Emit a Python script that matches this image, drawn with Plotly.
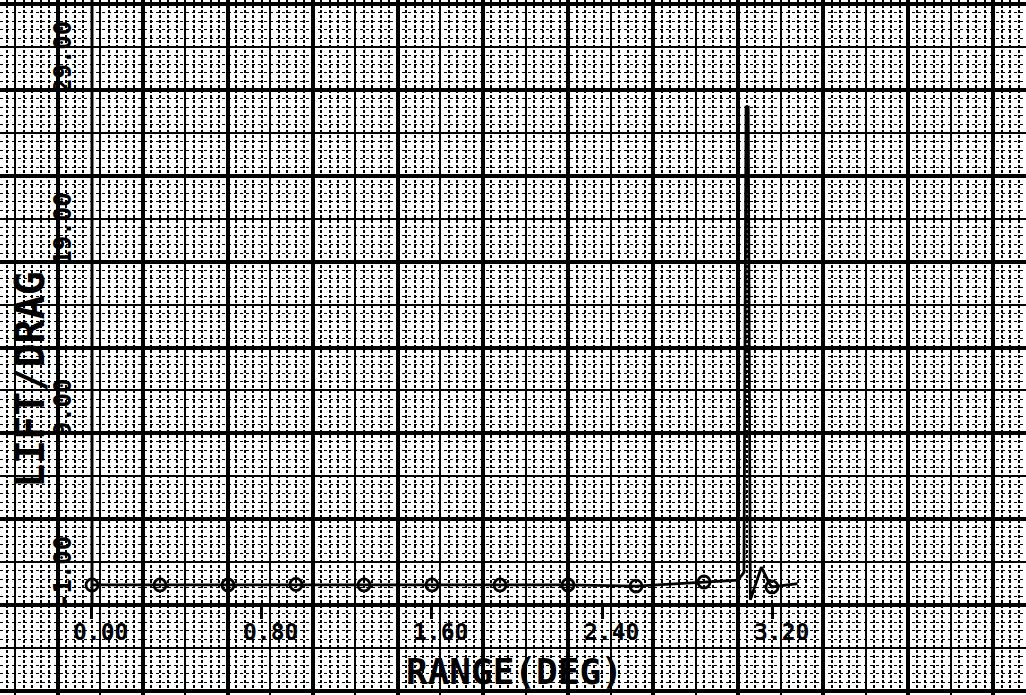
import plotly.graph_objects as go

# ---- data ----
range_deg = [0.00, 0.32, 0.64, 0.96, 1.28, 1.60, 1.92, 2.24, 2.56, 2.88,
             3.04, 3.068, 3.078, 3.088, 3.098, 3.150, 3.190, 3.200, 3.320]
lift_drag = [0.17, 0.17, 0.17, 0.20, 0.17, 0.17, 0.17, 0.17, 0.10, 0.34,
             0.45, 0.90, 28.0, 28.0, -0.70, 1.20, 0.20, 0.05, 0.25]

marker_deg = [0.00, 0.32, 0.64, 0.96, 1.28, 1.60, 1.92, 2.24, 2.56, 2.88, 3.20]
marker_ld = [0.17, 0.17, 0.17, 0.20, 0.17, 0.17, 0.17, 0.17, 0.10, 0.34, 0.05]

x_tick_vals = [0.00, 0.80, 1.60, 2.40, 3.20]
x_tick_text = ["0.00", "0.80", "1.60", "2.40", "3.20"]
y_tick_vals = [-1.0, 9.0, 19.0, 29.0]
y_tick_text = ["-1.00", "9.00", "19.00", "29.00"]

x_title = "RANGE(DEG)"
y_title = "LIFT/DRAG"

# ---- layout constants ----
W, H = 1026, 695
XR = [-0.4329, 4.3953]
YR = [-6.243, 34.243]
MONO = "DejaVu Sans Mono"

fig = go.Figure()

fig.add_trace(go.Scatter(
    x=range_deg, y=lift_drag, mode="lines",
    line=dict(color="black", width=2.8),
    hoverinfo="skip", showlegend=False))
fig.add_trace(go.Scatter(
    x=marker_deg, y=marker_ld, mode="markers",
    marker=dict(symbol="circle-open", size=12, color="black",
                line=dict(width=2.8, color="black")),
    hoverinfo="skip", showlegend=False))
# invisible carriers for the graph-paper grid axes
for xa, ya in (("x2", "y2"), ("x3", "y3")):
    fig.add_trace(go.Scatter(x=[XR[0]], y=[YR[0]], xaxis=xa, yaxis=ya,
                             mode="markers", marker=dict(opacity=0),
                             hoverinfo="skip", showlegend=False))

grid_common = dict(showticklabels=False, ticks="", zeroline=False,
                   showline=False, fixedrange=True)

fig.update_layout(
    width=W, height=H,
    margin=dict(l=0, r=0, t=0, b=0, pad=0),
    paper_bgcolor="white", plot_bgcolor="white",
    showlegend=False,
    xaxis=dict(range=XR, showgrid=False, zeroline=False,
               tickmode="array", tickvals=x_tick_vals, ticks="outside",
               ticklen=12, tickwidth=2.5, tickcolor="black",
               showticklabels=False, showline=True, linecolor="black",
               linewidth=3, anchor="free", position=90 / H, fixedrange=True),
    yaxis=dict(range=YR, showgrid=False, zeroline=False,
               tickmode="array", tickvals=y_tick_vals, ticks="outside",
               ticklen=8, tickwidth=2.5, tickcolor="black",
               showticklabels=False, showline=False,
               anchor="free", position=92 / W, fixedrange=True),
    # major graph-paper lines + fine dotted lines
    xaxis2=dict(range=XR, overlaying="x", anchor="y2", tickmode="linear",
                tick0=-0.16, dtick=0.4, showgrid=True, gridcolor="black",
                gridwidth=3.5,
                minor=dict(tick0=-0.16, dtick=0.04, showgrid=True,
                           gridcolor="black", gridwidth=1.5,
                           griddash="3px,2px"),
                **grid_common),
    yaxis2=dict(range=YR, overlaying="y", anchor="x2", tickmode="linear",
                tick0=-1, dtick=5, showgrid=True, gridcolor="black",
                gridwidth=3.5,
                minor=dict(tick0=-1, dtick=0.5, showgrid=True,
                           gridcolor="black", gridwidth=1, griddash="dot"),
                **grid_common),
    # medium graph-paper lines
    xaxis3=dict(range=XR, overlaying="x", anchor="y3", tickmode="linear",
                tick0=0.04, dtick=0.4, showgrid=True, gridcolor="black",
                gridwidth=2.2, **grid_common),
    yaxis3=dict(range=YR, overlaying="y", anchor="x3", tickmode="linear",
                tick0=1.5, dtick=5, showgrid=True, gridcolor="black",
                gridwidth=2.2, **grid_common),
)

# y axis line (from the lowest tick upward)
fig.add_shape(type="line", xref="x", yref="y",
              x0=x_tick_vals[0], x1=x_tick_vals[0],
              y0=y_tick_vals[0], y1=YR[1],
              line=dict(color="black", width=3))

ann = []
for v, t in zip(x_tick_vals, x_tick_text):
    ann.append(dict(x=v, y=y_tick_vals[0], xref="x", yref="y", text=t,
                    showarrow=False, xanchor="center", yanchor="middle",
                    xshift=9, yshift=-27,
                    font=dict(family=MONO, size=23, color="black",
                              weight="bold")))
for v, t in zip(y_tick_vals, y_tick_text):
    ann.append(dict(x=x_tick_vals[0], y=v, xref="x", yref="y", text=t,
                    showarrow=False, textangle=-90, xanchor="center",
                    yanchor="bottom", xshift=-29, yshift=-5,
                    font=dict(family=MONO, size=24, color="black",
                              weight="bold")))
ann.append(dict(x=514 / W, y=1 - 671 / H, xref="paper", yref="paper",
                text=x_title, showarrow=False, xanchor="center",
                yanchor="middle",
                font=dict(family=MONO, size=36, color="black",
                          weight="bold")))
ann.append(dict(x=30 / W, y=1 - 380 / H, xref="paper", yref="paper",
                text=y_title, showarrow=False, textangle=-90,
                xanchor="center", yanchor="middle",
                font=dict(family=MONO, size=40, color="black",
                          weight="bold")))
fig.update_layout(annotations=ann)

fig.write_html("out.html", config={"displayModeBar": False},
               post_script="document.body.style.margin='0';")
